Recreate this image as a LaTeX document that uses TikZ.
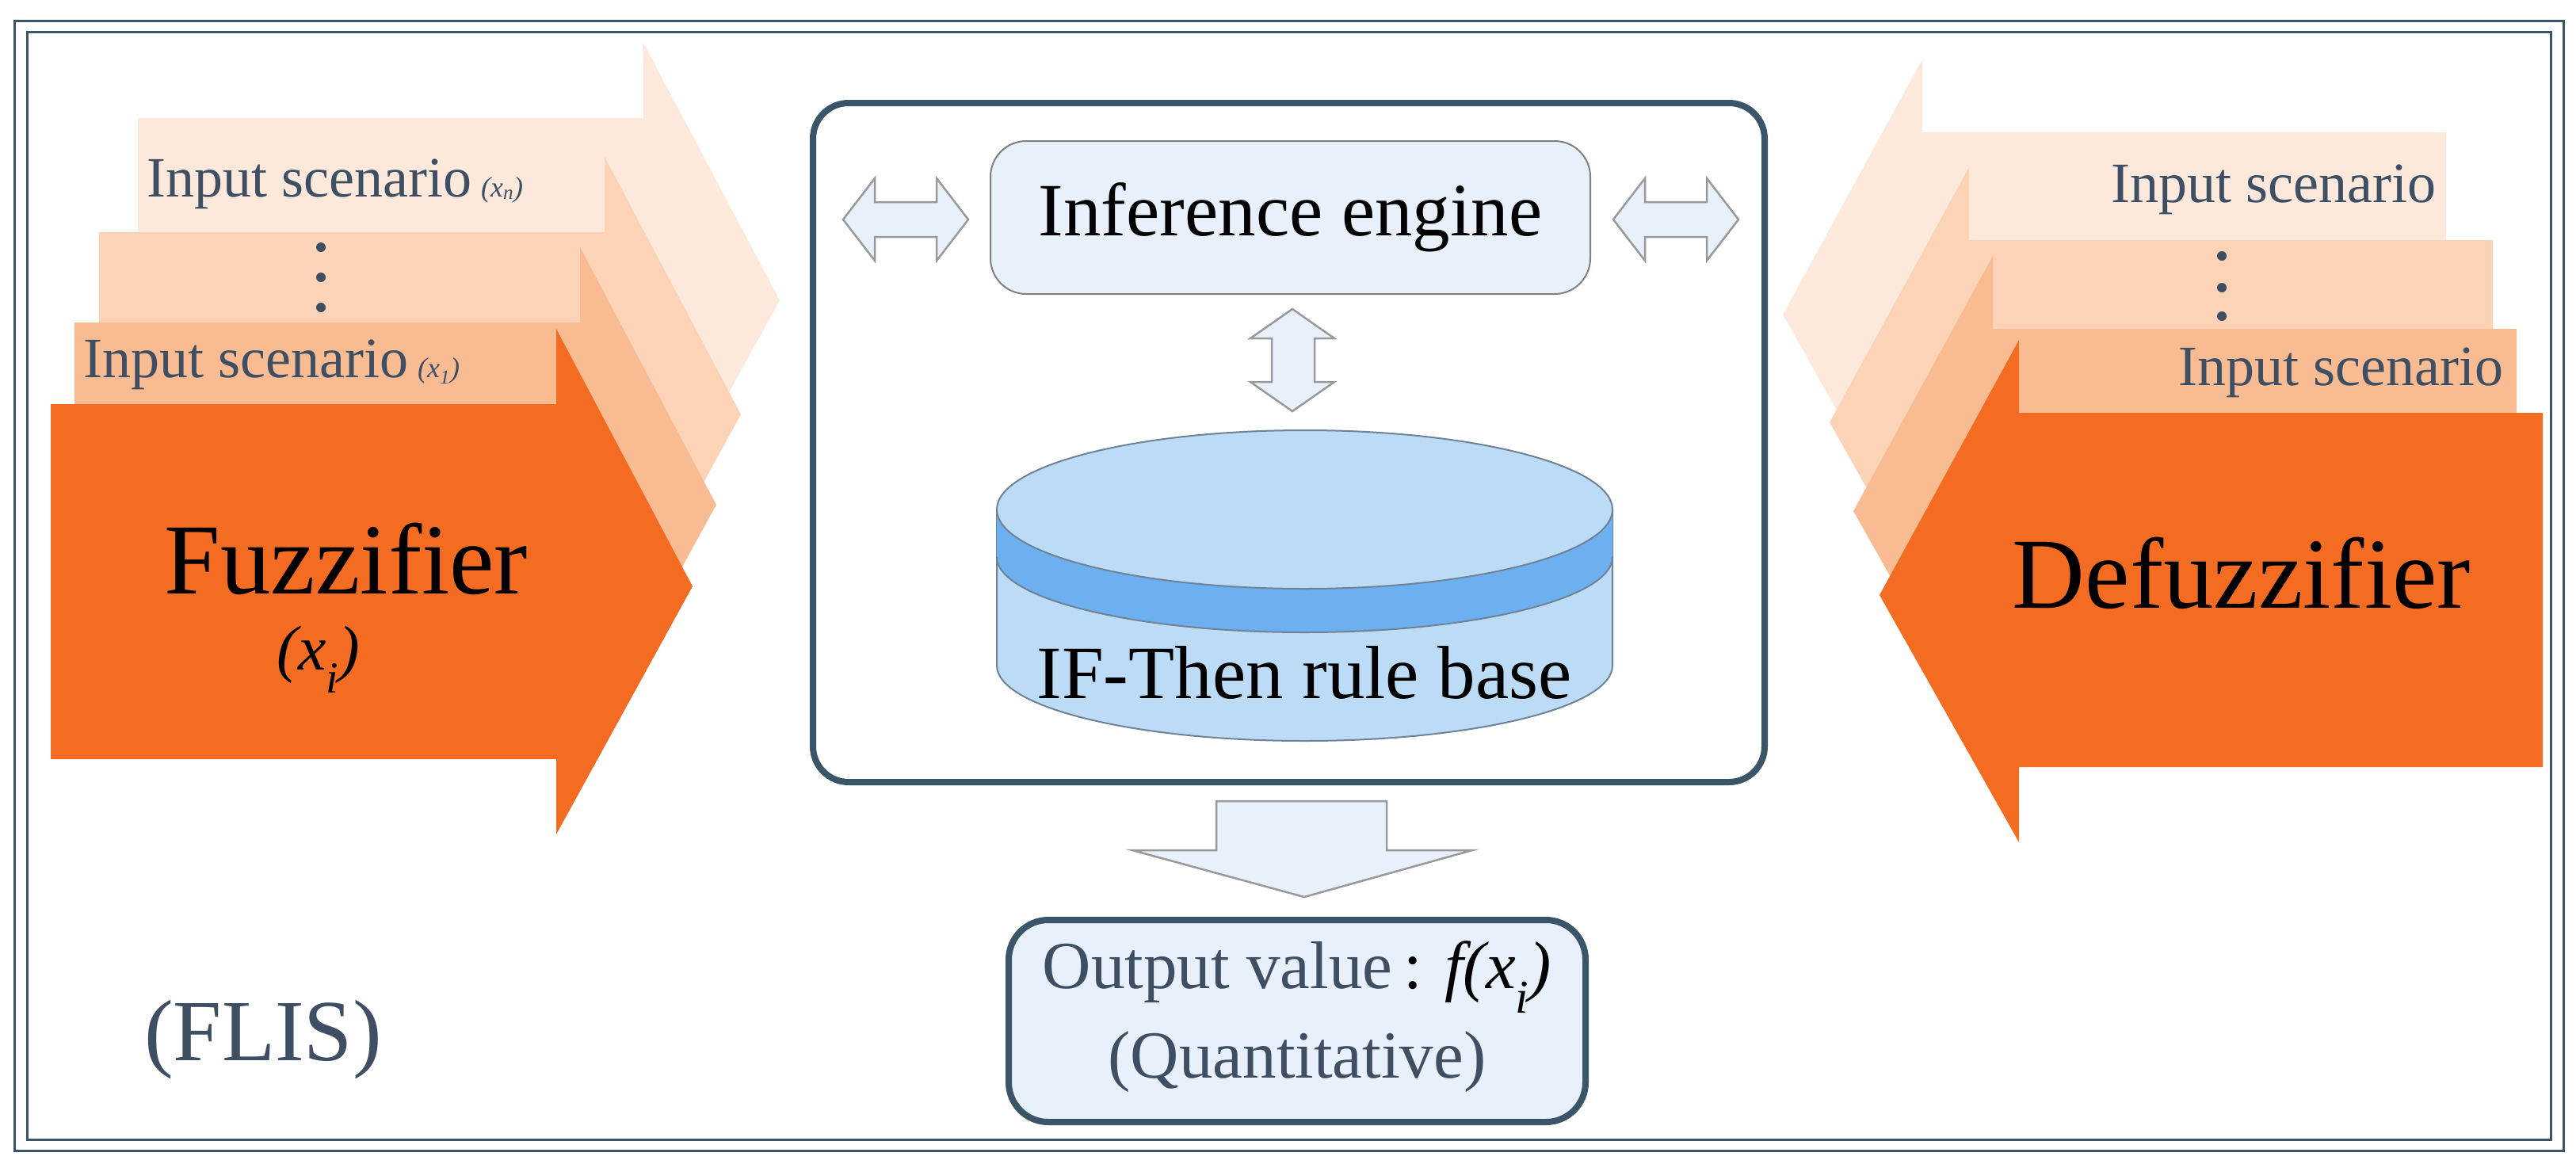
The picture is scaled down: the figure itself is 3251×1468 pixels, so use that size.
\documentclass[tikz,border=0pt]{standalone}
\usepackage{fontspec}
\setmainfont{Liberation Serif}
\begin{document}
\begin{tikzpicture}[x=1pt,y=-1pt,
  txt/.style={text=textc,inner sep=0pt},
  hollow/.style={fill=lblue,draw=gray!80,line width=2.5pt,line join=miter}]
\definecolor{orng}{HTML}{F36C21}
\definecolor{o2}{HTML}{F9BB92}
\definecolor{o3}{HTML}{FCD3B6}
\definecolor{o4}{HTML}{FDE9DB}
\definecolor{frame}{HTML}{3A5468}
\definecolor{textc}{HTML}{3F4F63}
\definecolor{lblue}{HTML}{E8F1FB}
\definecolor{cyl}{HTML}{BCDBF7}
\definecolor{band}{HTML}{6DB0F0}
\definecolor{cyledge}{HTML}{6F8296}
\useasboundingbox (0,0) rectangle (3251,1468);
\fill[white] (0,0) rectangle (3251,1468);
% frame
\draw[frame,line width=3pt] (18,26) rectangle (3235,1452);
\draw[frame,line width=3pt] (34,40) rectangle (3219,1438);
% left arrows
\foreach \dx/\dy/\c in {110/-361/o4,61/-217/o3,30/-103/o2,0/0/orng}{
  \fill[\c,shift={(\dx,\dy)}] (64,510)--(702,510)--(702,415)--(874,740)--(702,1053)--(702,958)--(64,958)--cycle;}
% right arrows
\foreach \dx/\dy/\c in {-122/-354/o4,-63/-218/o3,-33/-106/o2,0/0/orng}{
  \fill[\c,shift={(\dx,\dy)}] (3209,521)--(2548,521)--(2548,429)--(2372,751)--(2548,1063)--(2548,968)--(3209,968)--cycle;}
% left texts
\node[txt,anchor=west,font=\fontsize{72}{80}\selectfont] (inl) at (185,232) {Input scenario\,{\fontsize{36}{40}\selectfont\itshape(x\textsubscript{n})}};
\node[txt,anchor=west,font=\fontsize{72}{80}\selectfont] (in1) at (105,460) {Input scenario\,{\fontsize{36}{40}\selectfont\itshape(x\textsubscript{1})}};
\foreach \y in {312,350,388} \fill[textc] (405,\y) circle (6);
\node[inner sep=0pt,font=\fontsize{127}{130}\selectfont] (fuz) at (437,705) {Fuzzifier};
\node[inner sep=0pt,font=\fontsize{80}{90}\selectfont\itshape] (xi) at (402,832) {(x\textsubscript{i})};
% right texts
\node[txt,anchor=east,font=\fontsize{72}{80}\selectfont] (inr) at (3075,239) {Input scenario};
\node[txt,anchor=east,font=\fontsize{72}{80}\selectfont] (inr1) at (3160,470) {Input scenario};
\foreach \y in {323,363,399} \fill[textc] (2804,\y) circle (6);
\node[inner sep=0pt,font=\fontsize{127}{130}\selectfont] (defuz) at (2829,723) {Defuzzifier};
% center box
\draw[frame,line width=8pt,fill=white,rounded corners=45pt] (1026,130) rectangle (2227,987);
\node[fill=lblue,draw=gray,line width=2pt,rounded corners=45pt,minimum width=757pt,minimum height=193pt,font=\fontsize{95}{100}\selectfont,text=black] (inf) at (1628.5,274.5) {Inference engine};
\draw[hollow] (1064,277)--(1104,225)--(1104,255)--(1182,255)--(1182,225)--(1222,277)--(1182,329)--(1182,299)--(1104,299)--(1104,329)--cycle;
\draw[hollow] (2036,277)--(2076,225)--(2076,255)--(2154,255)--(2154,225)--(2194,277)--(2154,329)--(2154,299)--(2076,299)--(2076,329)--cycle;
\draw[hollow] (1631,390)--(1684,427)--(1659,427)--(1659,482)--(1684,482)--(1631,519)--(1578,482)--(1605,482)--(1605,427)--(1578,427)--cycle;
% cylinder
\draw[fill=cyl,draw=cyledge,line width=2pt] (1258,643)--(1258,840) arc[start angle=180,end angle=0,x radius=388.5,y radius=95]--(2035,643)--cycle;
\fill[band] (1258,643) arc[start angle=180,end angle=0,x radius=388.5,y radius=95]--(2035,703) arc[start angle=0,end angle=180,x radius=388.5,y radius=95]--cycle;
\draw[cyledge,line width=2pt] (1258,703) arc[start angle=180,end angle=0,x radius=388.5,y radius=95];
\draw[fill=cyl,draw=cyledge,line width=2pt] (1646.5,643) ellipse[x radius=388.5,y radius=100];
\node[inner sep=0pt,font=\fontsize{95}{100}\selectfont] (rule) at (1646,849) {IF-Then rule base};
% down arrow
\draw[hollow] (1535,1011)--(1750,1011)--(1750,1073)--(1858,1073)--(1646,1132)--(1429,1073)--(1535,1073)--cycle;
% output box
\draw[frame,line width=8pt,fill=lblue,rounded corners=50pt] (1273,1161) rectangle (2001,1416);
\node[txt,font=\fontsize{85}{90}\selectfont] (out1) at (1637,1233) {Output value\,{\color{black}: \itshape f(x\textsubscript{i})}};
\node[txt,font=\fontsize{85}{90}\selectfont] (out2) at (1637,1340) {(Quantitative)};
\node[txt,font=\fontsize{110}{120}\selectfont] (flis) at (332,1312) {(FLIS)};
\end{tikzpicture}
\end{document}
